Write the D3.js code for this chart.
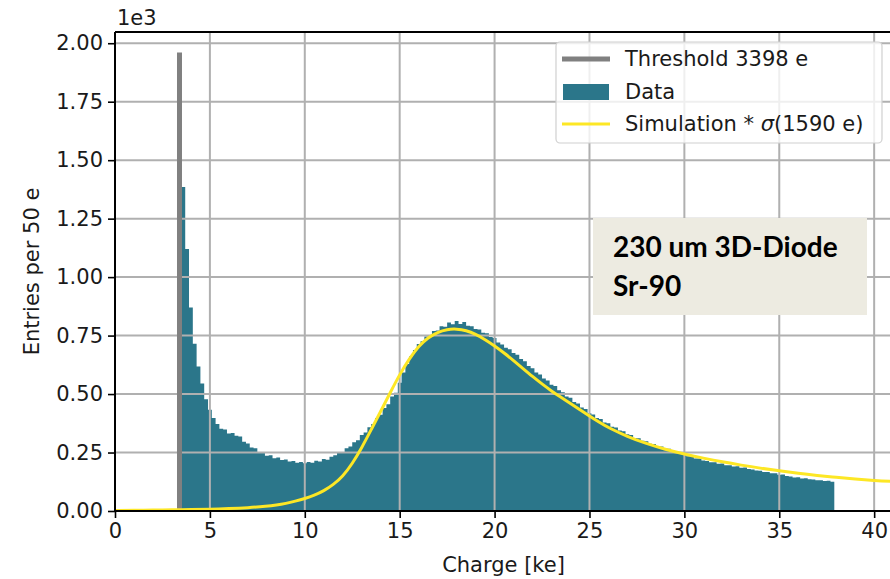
<!DOCTYPE html>
<html lang="en">
<head>
<meta charset="UTF-8">
<script src="https://d3js.org/d3.v7.min.js"></script>
<style>
  body { margin: 0; background: #fff; }
  svg text { font-family: "DejaVu Sans", sans-serif; fill: #1a1a1a; }
</style>
</head>
<body>
<div id="chart"></div>
<script>
// histogram: bins of 0.2 ke starting at binStart (values = entries per 50 e)
var binStart = 3.5, binWidth = 0.2;
var binValues = [
  1385, 1120, 870, 715, 618, 545, 478, 433, 398, 372,
  352, 348, 331, 334, 322, 318, 296, 289, 272, 268,
  252, 250, 236, 238, 226, 229, 218, 220, 212, 214,
  206, 210, 204, 209, 206, 215, 212, 222, 219, 232,
  238, 250, 252, 268, 276, 294, 302, 325, 336, 358,
  372, 398, 412, 440, 456, 490, 506, 548, 592, 628,
  662, 688, 714, 726, 746, 752, 770, 772, 790, 788,
  806, 798, 812, 800, 808, 792, 790, 778, 776, 762,
  760, 744, 740, 720, 712, 698, 692, 676, 668, 650,
  640, 620, 610, 592, 584, 566, 558, 540, 534, 516,
  508, 490, 484, 466, 460, 442, 436, 418, 413, 398,
  393, 378, 375, 360, 357, 344, 341, 328, 325, 312,
  311, 300, 298, 288, 287, 277, 276, 267, 266, 255,
  254, 244, 243, 234, 232, 225, 224, 216, 214, 208,
  208, 202, 203, 196, 196, 190, 191, 185, 186, 180,
  177, 173, 172, 167, 167, 161, 161, 155, 156, 150,
  148, 143, 144, 139, 140, 136, 135, 131, 132, 128,
  129, 125
];

// simulation curve (ke, entries)
var simKe = [0, 1, 2, 3, 4, 5, 6, 7, 8, 8.5, 9, 9.5, 10, 10.5, 11, 11.5, 12, 12.5, 13, 13.5,
  14, 14.5, 15, 15.5, 16, 16.5, 17, 17.5, 18, 18.5, 19, 19.5, 20, 20.5, 21, 21.5, 22, 22.5,
  23, 23.5, 24, 24.5, 25, 25.5, 26, 27, 28, 29, 30, 31, 32, 33, 34, 35, 36, 37, 38, 39, 40, 41, 42];
var simVal = [2, 3, 4, 5, 6, 7, 10, 14, 20, 25, 32, 42, 53, 67, 86, 112, 148, 202, 270, 348,
  426, 506, 584, 650, 705, 742, 765, 777, 779, 772, 756, 733, 706, 676, 643, 609, 575, 543,
  513, 486, 460, 433, 406, 380, 356, 318, 288, 263, 243, 226, 210, 196, 183, 172, 161, 152, 144, 136, 130, 126, 123];

var thresholdKe = 3.398, thresholdHeight = 1960;

var xTicks = [0, 5, 10, 15, 20, 25, 30, 35, 40];
var yTicks = [0, 250, 500, 750, 1000, 1250, 1500, 1750, 2000];

var legendLabels = ["Threshold 3398 e", "Data", "Simulation * "];
var noteLines = ["230 um 3D-Diode", "Sr-90"];

var W = 890, H = 579;
var pL = 115, pR = 892, pT = 32, pB = 511;

var svg = d3.select("#chart").append("svg")
  .attr("width", W).attr("height", H);

var x = d3.scaleLinear().domain([0, 40.94]).range([pL, pR]);
var y = d3.scaleLinear().domain([0, 2048]).range([pB, pT]);

var teal = "#2b768a", yellow = "#fde725", grey = "#808080";

var plot = svg.append("g");

// histogram as one stepped area (no seams between bins)
var steps = binValues.map(function(v, i) { return [binStart + i * binWidth, v]; });
steps.push([binStart + binValues.length * binWidth, binValues[binValues.length - 1]]);
plot.append("path")
  .datum(steps)
  .attr("d", d3.area().curve(d3.curveStepAfter)
    .x(function(d) { return x(d[0]); })
    .y0(pB)
    .y1(function(d) { return y(d[1]); }))
  .style("fill", teal);

// grid above the bars
plot.selectAll("line.gx").data(xTicks).enter().append("line")
  .attr("x1", function(d) { return x(d); }).attr("x2", function(d) { return x(d); })
  .attr("y1", pT).attr("y2", pB)
  .style("stroke", "#b0b0b0").style("stroke-width", 2);
plot.selectAll("line.gy").data(yTicks).enter().append("line")
  .attr("x1", pL).attr("x2", pR)
  .attr("y1", function(d) { return y(d); }).attr("y2", function(d) { return y(d); })
  .style("stroke", "#b0b0b0").style("stroke-width", 2);

// threshold
plot.append("line")
  .attr("x1", x(thresholdKe)).attr("x2", x(thresholdKe))
  .attr("y1", y(0)).attr("y2", y(thresholdHeight))
  .style("stroke", grey).style("stroke-width", 5);

// simulation
var sim = simKe.map(function(k, i) { return [k, simVal[i]]; });
plot.append("path")
  .datum(sim)
  .attr("d", d3.line().curve(d3.curveBasis)
    .x(function(d) { return x(d[0]); })
    .y(function(d) { return y(d[1]); }))
  .style("fill", "none").style("stroke", yellow).style("stroke-width", 3);

// axes
var xAxis = svg.append("g")
  .attr("transform", "translate(0," + pB + ")")
  .call(d3.axisBottom(x).tickValues(xTicks).tickSize(7).tickPadding(5));
var yAxis = svg.append("g")
  .attr("transform", "translate(" + pL + ",0)")
  .call(d3.axisLeft(y).tickValues(yTicks).tickSize(7).tickPadding(5)
    .tickFormat(function(d) { return (d / 1000).toFixed(2); }));
[xAxis, yAxis].forEach(function(a) {
  a.selectAll("text").style("font-size", "21px").style("font-family", "DejaVu Sans").attr("fill", "#1a1a1a");
  a.selectAll("line").style("stroke", "#000").style("stroke-width", 1.6);
  a.select(".domain").style("stroke", "#000").style("stroke-width", 2);
});
xAxis.selectAll(".domain").attr("d", "M" + pL + ",0H" + pR);
yAxis.selectAll(".domain").attr("d", "M0," + pB + "V" + pT);

// top spine
svg.append("line")
  .attr("x1", pL).attr("x2", pR).attr("y1", pT).attr("y2", pT)
  .style("stroke", "#000").style("stroke-width", 2);

// labels
svg.append("text").attr("x", 117).attr("y", 25).style("font-size", "21px").text("1e3");
svg.append("text").attr("x", (pL + pR) / 2).attr("y", 572)
  .attr("text-anchor", "middle").style("font-size", "21px").text("Charge [ke]");
svg.append("text")
  .attr("transform", "translate(39," + ((pT + pB) / 2) + ") rotate(-90)")
  .attr("text-anchor", "middle").style("font-size", "21px").text("Entries per 50 e");

// legend
var lg = svg.append("g");
lg.append("rect")
  .attr("x", 556).attr("y", 42).attr("width", 326).attr("height", 101)
  .attr("rx", 4)
  .style("fill", "#fff").style("fill-opacity", 0.8)
  .style("stroke", "#d0d0d0").style("stroke-width", 1.2);
lg.append("line").attr("x1", 562).attr("x2", 610).attr("y1", 59).attr("y2", 59)
  .style("stroke", grey).style("stroke-width", 5);
lg.append("rect").attr("x", 563).attr("y", 84).attr("width", 46).attr("height", 16)
  .style("fill", teal);
lg.append("line").attr("x1", 562).attr("x2", 610).attr("y1", 124).attr("y2", 124)
  .style("stroke", yellow).style("stroke-width", 3);
var rowsY = [66, 99, 131];
legendLabels.forEach(function(t, i) {
  var tx = lg.append("text").attr("x", 625).attr("y", rowsY[i]).style("font-size", "21px").text(t);
  if (i === 2) {
    tx.append("tspan").style("font-style", "italic").text("σ");
    tx.append("tspan").text("(1590 e)");
  }
});

// annotation box
svg.append("rect")
  .attr("x", 593).attr("y", 218).attr("width", 274).attr("height", 97)
  .style("fill", "#edebe1");
noteLines.forEach(function(t, i) {
  svg.append("text")
    .attr("x", 613).attr("y", 257 + i * 39)
    .style("font-family", "Lato, sans-serif").style("font-weight", "bold")
    .style("font-size", "28px").style("fill", "#000")
    .text(t);
});
</script>
</body>
</html>
